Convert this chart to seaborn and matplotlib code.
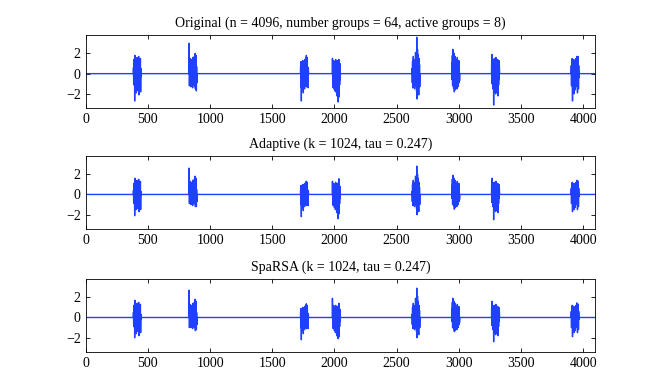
import numpy as np
import pandas as pd
import matplotlib
matplotlib.use('Agg')
import matplotlib.pyplot as plt
import seaborn as sns

# signal setup
n = 4096
group_size = 64
active_groups = [6, 13, 27, 31, 41, 46, 51, 61]
xticks = [0, 500, 1000, 1500, 2000, 2500, 3000, 3500, 4000]
yticks = [-2, 0, 2]

titles = ['Original (n = 4096, number groups = 64, active groups = 8)',
          'Adaptive (k = 1024, tau = 0.247)',
          'SpaRSA (k = 1024, tau = 0.247)']

# values, every 2nd sample inside each active group
original = [
    [0.6, -1.1, 1.4, -0.4, 0.9, -2.7, 1.8, -1.5, 0.3, 1.2, -0.8, -1.9, 1.5, 0.7, -1.2, 1.6, -0.5, 0.8, -1.7, 1.1, -0.9, 1.7, -2.1, 0.4, 1.3, -1.4, 0.9, -0.6, 1.5, -1.8, 0.5, -0.3],
    [3.0, -1.2, 1.1, -0.6, 1.5, -0.9, 0.4, -1.3, 1.2, 0.8, -1.0, 1.4, -0.5, 0.9, -1.4, 1.6, -0.7, 0.3, -1.1, 1.3, -0.8, 1.7, -1.2, 0.6, 2.0, -1.5, 1.1, -0.4, 1.8, -1.7, 0.7, -0.9],
    [0.7, -1.3, 1.2, -2.7, 0.5, -1.6, 1.0, 0.4, -1.1, 1.3, -0.6, -1.9, 0.9, 1.1, -1.0, 0.6, -1.5, 1.4, -0.3, 0.8, -1.2, 1.5, -0.7, 1.8, -1.3, 0.9, -0.5, 1.6, -1.0, 0.4, -1.4, 0.6],
    [1.5, -0.8, 1.1, -1.4, 0.6, 1.3, -1.0, 0.4, -1.6, 1.2, -0.5, 0.9, -1.8, 1.4, -0.7, 0.3, -1.2, 1.0, -2.2, 0.8, 1.3, -1.5, 0.5, -2.8, 1.1, -0.9, 1.4, -2.3, 0.7, -1.1, 1.0, -0.6],
    [0.5, -0.9, 1.2, -1.4, 0.7, 1.7, -0.6, -1.3, 0.9, 1.1, -1.5, 0.4, 1.4, -0.8, 2.1, -1.2, 0.6, 1.8, -1.7, 3.6, -2.5, 1.3, 2.4, -1.9, 0.8, 1.9, -1.1, -2.1, 1.5, -0.7, 0.9, -1.3],
    [1.1, -0.6, 1.8, -1.2, 2.4, -0.8, 1.5, -1.4, 0.7, 2.0, -1.8, 1.3, -0.5, 1.7, -1.6, 0.9, -1.1, 1.4, -0.7, 1.2, -1.5, 0.6, 1.6, -1.0, 0.8, -1.3, 1.1, -0.4, 1.3, -0.9, 0.5, -0.7],
    [1.2, -1.0, 1.9, -0.7, 1.4, -1.5, 0.6, 1.1, -3.1, 0.8, -1.8, 1.5, -0.6, 1.3, -1.2, 0.9, -2.0, 1.6, -0.8, 1.1, -1.4, 0.5, 1.2, -1.9, 1.4, -2.2, 0.7, 1.0, -1.1, 1.3, -0.6, 0.8],
    [0.8, -1.2, 1.3, -0.6, 1.5, -2.7, 0.9, -1.4, 1.1, -0.5, 1.4, -2.0, 0.7, 1.2, -1.0, 0.4, -1.6, 1.3, -0.8, 1.5, -1.1, 0.6, 1.7, -1.3, 0.9, -1.9, 1.6, -0.7, 1.7, -1.5, 0.8, -0.4],
]

adaptive = [
    [0.4, -0.9, 1.1, -0.2, 0.7, -2.1, 1.6, -1.2, 0.1, 1.0, -0.6, -1.5, 1.3, 0.5, -1.0, 1.4, -0.3, 0.6, -1.4, 0.9, -0.7, 1.5, -1.7, 0.2, 1.1, -1.2, 0.7, -0.4, 1.3, -1.5, 0.3, -0.1],
    [2.6, -0.9, 0.9, -0.4, 1.3, -0.7, 0.2, -1.0, 1.0, 0.6, -0.8, 1.2, -0.3, 0.7, -1.1, 1.4, -0.5, 0.1, -0.9, 1.1, -0.6, 1.5, -0.9, 0.4, 1.8, -1.2, 0.9, -0.2, 1.6, -1.2, 0.5, -0.7],
    [0.5, -1.0, 0.9, -2.2, 0.3, -1.3, 0.8, 0.2, -0.9, 1.0, -0.4, -1.6, 0.7, 0.9, -0.8, 0.4, -1.2, 1.1, -0.1, 0.6, -1.0, 1.2, -0.5, 1.3, -1.1, 0.7, -0.3, 1.2, -0.8, 0.2, -1.1, 0.4],
    [1.3, -0.6, 0.9, -1.1, 0.4, 1.1, -0.8, 0.2, -1.3, 1.0, -0.3, 0.7, -1.5, 1.2, -0.5, 0.1, -1.0, 0.8, -1.8, 0.6, 1.1, -1.2, 0.3, -2.4, 0.9, -0.7, 1.55, -1.9, 0.5, -0.9, 0.8, -0.4],
    [0.3, -0.7, 1.0, -1.1, 0.5, 1.4, -0.4, -1.0, 0.7, 0.9, -1.2, 0.2, 1.2, -0.6, 1.8, -1.0, 0.4, 1.5, -1.4, 2.8, -2.0, 1.1, 2.0, -1.6, 0.6, 1.6, -0.9, -1.7, 1.2, -0.5, 0.7, -1.0],
    [0.9, -0.4, 1.5, -1.0, 1.9, -0.6, 1.2, -1.1, 0.5, 1.6, -1.45, 1.0, -0.3, 1.4, -1.3, 0.7, -0.9, 1.1, -0.5, 1.0, -1.2, 0.4, 1.3, -0.8, 0.6, -1.0, 0.9, -0.2, 1.1, -0.7, 0.3, -0.5],
    [1.0, -0.8, 1.6, -0.5, 1.2, -1.2, 0.4, 0.9, -2.5, 0.6, -1.5, 1.2, -0.4, 1.1, -1.0, 0.7, -1.7, 1.3, -0.6, 0.9, -1.1, 0.3, 1.0, -1.6, 1.1, -1.8, 0.5, 0.8, -0.9, 1.0, -0.4, 0.6],
    [0.6, -0.9, 1.0, -0.4, 1.2, -1.7, 0.7, -1.1, 0.9, -0.3, 1.1, -1.5, 0.5, 1.0, -0.8, 0.2, -1.3, 1.0, -0.6, 1.2, -0.9, 0.4, 1.4, -1.0, 0.7, -1.5, 1.3, -0.5, 1.3, -1.2, 0.6, -0.2],
]

sparsa = [
    [0.5, -0.9, 1.2, -0.3, 0.7, -2.0, 1.7, -1.2, 0.2, 1.0, -0.6, -1.6, 1.3, 0.5, -1.0, 1.4, -0.3, 0.6, -1.4, 0.9, -0.7, 1.5, -1.8, 0.2, 1.1, -1.2, 0.7, -0.4, 1.3, -1.5, 0.3, -0.2],
    [2.7, -1.0, 0.9, -0.4, 1.3, -0.7, 0.3, -1.0, 1.0, 0.6, -0.8, 1.2, -0.3, 0.7, -1.1, 1.4, -0.5, 0.1, -0.9, 1.1, -0.6, 1.5, -1.0, 0.4, 1.8, -1.3, 0.9, -0.2, 1.6, -1.2, 0.5, -0.7],
    [0.5, -1.0, 0.9, -2.2, 0.3, -1.3, 0.8, 0.2, -0.9, 1.0, -0.4, -1.6, 0.7, 0.9, -0.8, 0.4, -1.2, 1.1, -0.2, 0.6, -1.0, 1.2, -0.5, 1.35, -1.1, 0.7, -0.3, 1.2, -0.8, 0.2, -1.1, 0.4],
    [1.9, -0.6, 1.0, -1.1, 0.4, 1.2, -0.8, 0.2, -1.3, 1.0, -0.3, 0.7, -1.5, 1.2, -0.5, 0.1, -1.0, 0.8, -1.8, 0.6, 1.1, -1.2, 0.3, -2.1, 0.9, -0.7, 1.4, -1.9, 0.5, -0.9, 0.8, -0.4],
    [0.3, -0.7, 1.0, -1.1, 0.5, 1.4, -0.4, -1.0, 0.7, 0.9, -1.2, 0.2, 1.2, -0.6, 1.9, -1.0, 0.4, 1.5, -1.4, 2.9, -2.0, 1.1, 2.1, -1.6, 0.6, 1.6, -0.9, -1.7, 1.2, -0.5, 0.7, -1.0],
    [0.9, -0.4, 1.5, -1.0, 1.9, -0.6, 1.2, -1.1, 0.5, 1.6, -1.4, 1.0, -0.3, 1.4, -1.3, 0.7, -0.9, 1.1, -0.5, 1.0, -1.2, 0.4, 1.3, -0.8, 0.6, -1.0, 0.9, -0.2, 1.1, -0.7, 0.3, -0.5],
    [1.0, -0.8, 1.6, -0.5, 1.2, -1.2, 0.4, 0.9, -2.4, 0.6, -1.5, 1.2, -0.4, 1.1, -1.0, 0.7, -1.7, 1.3, -0.6, 0.9, -1.1, 0.3, 1.0, -1.6, 1.1, -1.8, 0.5, 0.8, -0.9, 1.0, -0.4, 0.6],
    [0.6, -1.0, 1.0, -0.4, 1.2, -1.9, 0.7, -1.1, 0.9, -0.3, 1.1, -1.5, 0.5, 1.0, -0.8, 0.2, -1.3, 1.0, -0.6, 1.2, -0.9, 0.4, 1.44, -1.0, 0.7, -1.5, 1.3, -0.5, 1.3, -1.2, 0.6, -0.2],
]


def build_signal(bursts):
    xs = [0]
    ys = [0.0]
    for g, vals in zip(active_groups, bursts):
        start = g * group_size
        xs.append(start - 1)
        ys.append(0.0)
        for i, v in enumerate(vals):
            xs.append(start + 2 * i)
            ys.append(v)
        xs.append(start + group_size)
        ys.append(0.0)
    xs.append(n - 1)
    ys.append(0.0)
    return pd.DataFrame({'sample': xs, 'value': ys})


plt.rcParams['font.family'] = ['Liberation Serif', 'DejaVu Serif']
plt.rcParams['font.size'] = 10
plt.rcParams['xtick.direction'] = 'in'
plt.rcParams['ytick.direction'] = 'in'
plt.rcParams['xtick.top'] = True
plt.rcParams['ytick.right'] = True

fig = plt.figure(figsize=(6.54, 3.74), dpi=100)
left, width = 0.131, 0.779
bottoms = [0.711, 0.388, 0.059]
height = 0.195

for k, bursts in enumerate([original, adaptive, sparsa]):
    ax = fig.add_axes([left, bottoms[k], width, height])
    df = build_signal(bursts)
    sns.lineplot(data=df, x='sample', y='value', ax=ax, estimator=None, sort=False,
                 color='#2040ff', linewidth=1.0)
    ax.set_xlim(0, n)
    ax.set_ylim(-3.4, 3.8)
    ax.set_xticks(xticks)
    ax.set_yticks(yticks)
    ax.set_xlabel('')
    ax.set_ylabel('')
    ax.set_title(titles[k], fontsize=10, pad=6)
    ax.tick_params(length=3, width=0.6, labelsize=10)
    for sp in ax.spines.values():
        sp.set_linewidth(0.6)

fig.savefig('out.png', dpi=100)
